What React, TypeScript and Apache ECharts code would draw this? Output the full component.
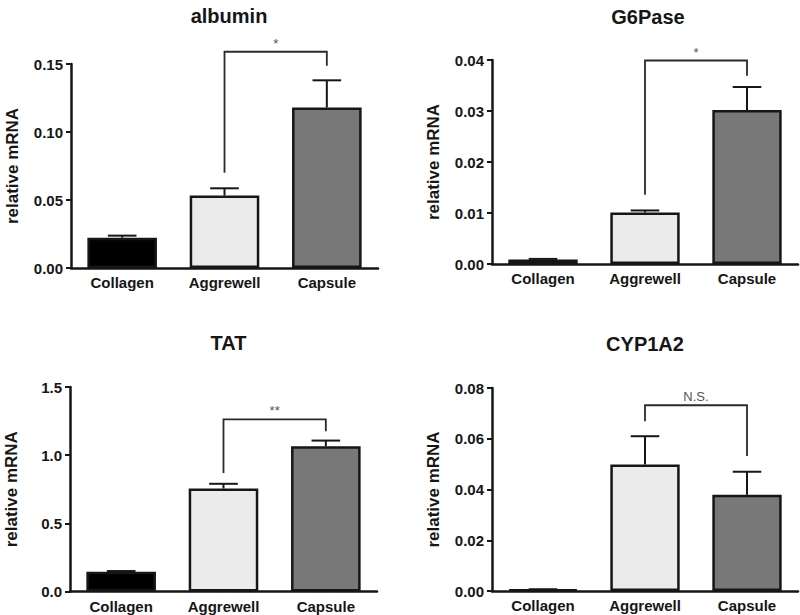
import React, { useEffect, useRef } from "react";
import * as echarts from "echarts";

const categories = ["Collagen", "Aggrewell", "Capsule"];
const barColors = ["#000000", "#ebebeb", "#787878"];

const titles = ["albumin", "G6Pase", "TAT", "CYP1A2"];

const albuminMean = [0.0223, 0.0533, 0.118];
const albuminErr = [0.0015, 0.0053, 0.02];
const g6paseMean = [0.0009, 0.0101, 0.0302];
const g6paseErr = [0.0001, 0.0004, 0.0045];
const tatMean = [0.145, 0.755, 1.065];
const tatErr = [0.005, 0.035, 0.042];
const cypMean = [0.0006, 0.0499, 0.0379];
const cypErr = [0.0001, 0.0111, 0.0091];

const yMax = [0.15, 0.04, 1.5, 0.08];
const yInterval = [0.05, 0.01, 0.5, 0.02];
const yDecimals = [2, 2, 1, 2];

// significance brackets: [fromCat, toCat, topValue, leftLegBottom, rightLegBottom]
const albuminBracket = [1, 2, 0.159, 0.07, 0.1488];
const g6paseBracket = [1, 2, 0.0399, 0.0136, 0.0369];
const tatBracket = [1, 2, 1.262, 0.87, 1.176];
const cypBracket = [1, 2, 0.0732, 0.0669, 0.0532];
const bracketLabels = ["*", "*", "**", "N.S."];

const means = [albuminMean, g6paseMean, tatMean, cypMean];
const errs = [albuminErr, g6paseErr, tatErr, cypErr];
const brackets = [albuminBracket, g6paseBracket, tatBracket, cypBracket];

const FONT = "Liberation Sans, Arial, Helvetica, sans-serif";
const INK = "#161616";

const grids = [
  { left: 71, top: 64, width: 307, height: 204 },
  { left: 492, top: 60, width: 306, height: 204 },
  { left: 70, top: 387, width: 307, height: 204.5 },
  { left: 492, top: 388, width: 306, height: 203 },
];
const titlePos = [
  { x: 224, y: 1 },
  { x: 643, y: 2 },
  { x: 223.5, y: 328 },
  { x: 640, y: 329 },
];

export default function App() {
  const ref = useRef<HTMLDivElement>(null);
  useEffect(() => {
    if (!ref.current) return;
    const chart = echarts.init(ref.current, null, { renderer: "svg" });

    const series: any[] = [];
    for (let i = 0; i < 4; i++) {
      series.push({
        type: "bar",
        xAxisIndex: i,
        yAxisIndex: i,
        barWidth: "68%",
        data: means[i].map((v, k) => ({
          value: v,
          itemStyle: { color: barColors[k], borderColor: INK, borderWidth: 2.5 },
        })),
        z: 2,
      });
      series.push({
        type: "custom",
        xAxisIndex: i,
        yAxisIndex: i,
        clip: false,
        z: 3,
        encode: { x: 0, y: [1, 2] },
        data: means[i].map((m, k) => [k, m, m + errs[i][k]]),
        renderItem: (params: any, api: any) => {
          const x = api.value(0);
          const p0 = api.coord([x, api.value(1)]);
          const p1 = api.coord([x, api.value(2)]);
          const hw = api.size([1, 0])[0] * 0.14;
          const st = { stroke: INK, lineWidth: 2 };
          return {
            type: "group",
            children: [
              { type: "line", shape: { x1: p0[0], y1: p0[1], x2: p1[0], y2: p1[1] }, style: st },
              { type: "line", shape: { x1: p1[0] - hw, y1: p1[1], x2: p1[0] + hw, y2: p1[1] }, style: st },
            ],
          };
        },
      });
      const b = brackets[i];
      series.push({
        type: "custom",
        xAxisIndex: i,
        yAxisIndex: i,
        clip: false,
        z: 3,
        encode: { x: 0, y: 2 },
        data: [b],
        renderItem: (params: any, api: any) => {
          const f = api.value(0);
          const t = api.value(1);
          const top = api.value(2);
          const a = api.coord([f, api.value(3)]);
          const bb = api.coord([f, top]);
          const c = api.coord([t, top]);
          const d = api.coord([t, api.value(4)]);
          return {
            type: "group",
            children: [
              {
                type: "polyline",
                shape: { points: [a, bb, c, d] },
                style: { stroke: "#2a2a2a", lineWidth: 1.8, fill: null },
              },
              {
                type: "text",
                x: (bb[0] + c[0]) / 2,
                y: bb[1] - 2,
                style: {
                  text: bracketLabels[i],
                  fill: "#555",
                  font: `13px ${FONT}`,
                  align: "center",
                  verticalAlign: "bottom",
                },
              },
            ],
          };
        },
      });
    }

    const option: any = {
      animation: false,
      backgroundColor: "#fff",
      title: titles.map((t, i) => ({
        text: t,
        left: titlePos[i].x,
        top: titlePos[i].y,
        textAlign: "center",
        textStyle: { fontFamily: FONT, fontSize: 20, fontWeight: "bold", color: INK },
      })),
      grid: grids,
      xAxis: grids.map((_, i) => ({
        type: "category",
        gridIndex: i,
        data: categories,
        axisLine: { lineStyle: { color: INK, width: 2.5 } },
        axisTick: { show: false },
        axisLabel: {
          color: INK,
          fontFamily: FONT,
          fontSize: 15,
          fontWeight: "bold",
          margin: 7,
        },
        splitLine: { show: false },
      })),
      yAxis: grids.map((_, i) => ({
        type: "value",
        gridIndex: i,
        min: 0,
        max: yMax[i],
        interval: yInterval[i],
        name: "relative mRNA",
        nameLocation: "middle",
        nameRotate: 90,
        nameGap: 50,
        nameTextStyle: { fontFamily: FONT, fontSize: 17, fontWeight: "bold", color: INK },
        axisLine: { show: true, lineStyle: { color: INK, width: 2.5 } },
        axisTick: { show: true, inside: false, length: 5, lineStyle: { color: INK, width: 2 } },
        axisLabel: {
          color: INK,
          fontFamily: FONT,
          fontSize: 15,
          fontWeight: "bold",
          margin: 8,
          formatter: (v: number) => v.toFixed(yDecimals[i]),
        },
        splitLine: { show: false },
      })),
      series,
    };
    chart.setOption(option);
    return () => chart.dispose();
  }, []);
  return (
    <div
      ref={ref}
      style={{ position: "absolute", left: 0, top: 0, width: 800, height: 615, background: "#fff" }}
    />
  );
}
